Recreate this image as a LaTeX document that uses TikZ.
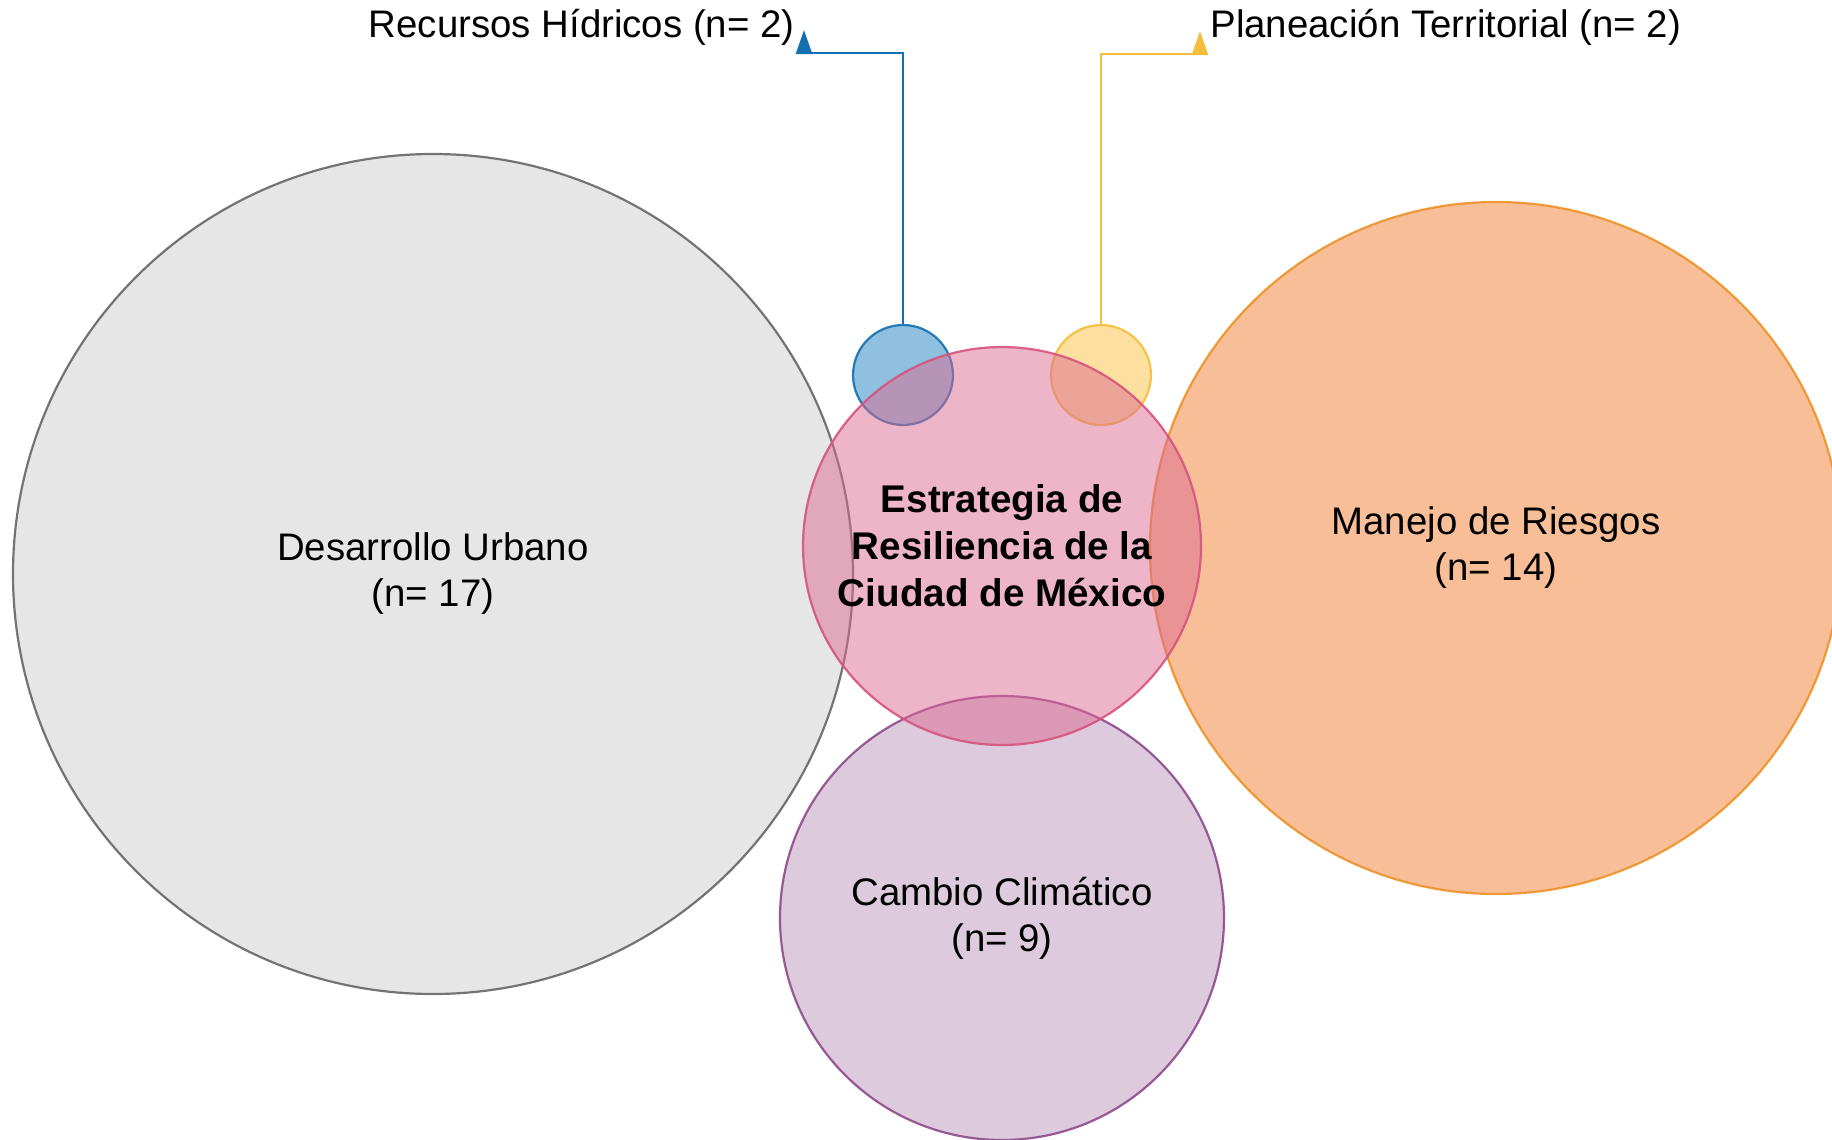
\documentclass[tikz,border=0pt]{standalone}
\usepackage{fontspec}
\setmainfont{Liberation Sans}
\usepackage{tikz}
\usetikzlibrary{calc}
\usetikzlibrary{arrows.meta}

\definecolor{urbfill}{RGB}{205,205,205}
\definecolor{urbline}{RGB}{102,102,102}
\definecolor{riefill}{RGB}{240,125,50}
\definecolor{rieline}{RGB}{238,146,40}
\definecolor{resfill}{RGB}{221,105,145}
\definecolor{resline}{RGB}{214,83,125}
\definecolor{clifill}{RGB}{187,149,185}
\definecolor{cliline}{RGB}{142,74,140}
\definecolor{hidfill}{RGB}{31,129,191}
\definecolor{hidline}{RGB}{20,112,176}
\definecolor{plafill}{RGB}{251,193,65}
\definecolor{plaline}{RGB}{245,190,60}

\begin{document}
\begin{tikzpicture}[x=0.5pt,y=-0.5pt,
        bubble/.style={circle, inner sep=0pt, line width=1.1pt, fill opacity=0.5, draw opacity=0.9, text opacity=1, align=center, font=\fontsize{19.2}{23}\selectfont},
        toplabel/.style={inner sep=0pt, font=\fontsize{19.2}{23}\selectfont},
        link/.style={line width=1.3pt, -{Triangle[length=12pt,width=8pt]}}]
        % Fix the frame of the picture
        \useasboundingbox (0,0) rectangle (1832,1140);

        % Draw the big fields
        \node[bubble, draw=urbline, fill=urbfill, minimum size=420pt] (urb) at (433,574) {Desarrollo Urbano\\(n= 17)};
        \node[bubble, draw=rieline, fill=riefill, minimum size=346pt] (rie) at (1496,548) {Manejo de Riesgos\\(n= 14)};
        \node[bubble, draw=cliline, fill=clifill, minimum size=222pt] (cli) at (1002,918) {Cambio Climático\\(n= 9)};

        % Draw the small fields
        \node[bubble, draw=hidline, fill=hidfill, minimum size=50pt] (hid) at (903,375) {};
        \node[bubble, draw=plaline, fill=plafill, minimum size=50pt] (pla) at (1101,375) {};

        % Draw the strategy in the middle
        \node[bubble, draw=resline, fill=resfill, minimum size=199pt, font=\fontsize{19.3}{23.5}\selectfont\bfseries] (res) at (1002,546) {Estrategia de\\Resiliencia de la\\Ciudad de México};

        % Labels of the small fields
        \node[toplabel, anchor=base east] (hidlab) at (795,37) {Recursos Hídricos (n= 2)};
        \node[toplabel, anchor=base west] (plalab) at (1210,37) {Planeación Territorial (n= 2)};
        \coordinate (hidtip) at (804,30);
        \coordinate (platip) at (1200,31);

        % Draw the connectors
        \draw[link, hidline] (hid.north) |- ([yshift=-11.5pt]hidtip) -- (hidtip);
        \draw[link, plaline] (pla.north) |- ([yshift=-11.5pt]platip) -- (platip);
    \end{tikzpicture}
\end{document}
